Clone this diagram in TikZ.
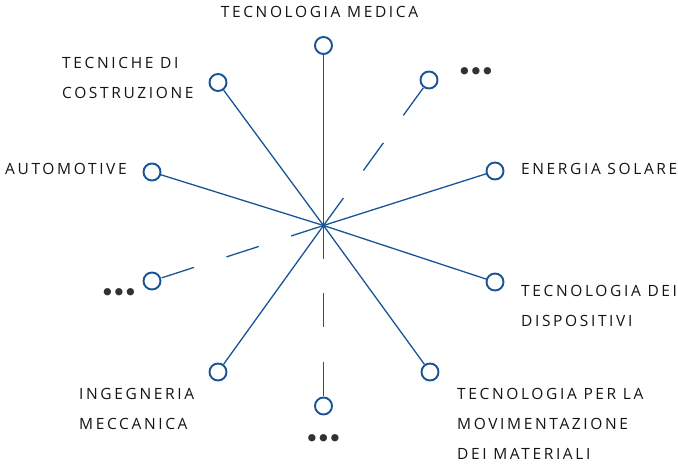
\documentclass[tikz,border=0pt]{standalone}
\usepackage{fontspec}
\setmainfont{Open Sans}[LetterSpace=17]
\newfontfamily\dotfont{DejaVu Sans}[LetterSpace=-13]
\definecolor{linkblue}{RGB}{24,84,150}
\definecolor{labelink}{RGB}{20,20,20}
\definecolor{dotink}{RGB}{50,50,50}
\begin{document}
\begin{tikzpicture}[x=1pt,y=-1pt,
  hubline/.style={draw=linkblue,line width=1.3pt},
  gapline/.style={hubline,dash pattern=on 34pt off 34pt},
  endcircle/.style={circle,draw=linkblue,line width=1.9pt,fill=white,minimum size=17pt,inner sep=0pt},
  label/.style={inner sep=0pt,anchor=north west,align=left,text=labelink,font=\fontsize{15.5}{30}\selectfont},
  more/.style={inner sep=0pt,text=dotink,font=\dotfont\fontsize{25}{25}\selectfont}]
\useasboundingbox (0,0) rectangle (678,465);
\coordinate (hub) at (323.5,225.5);
\node[endcircle] (cmed) at (323.5,45.5) {};
\node[endcircle] (ccos) at (218,82.5) {};
\node[endcircle] (caut) at (152,172) {};
\node[endcircle] (cur) at (429,80) {};
\node[endcircle] (csol) at (495,171) {};
\node[endcircle] (cdis) at (495,282) {};
\node[endcircle] (cmov) at (430,372) {};
\node[endcircle] (cbot) at (323.5,406) {};
\node[endcircle] (cing) at (218,372) {};
\node[endcircle] (cleft) at (152,281) {};
\draw[hubline] (hub) -- (cmed);
\draw[hubline] (hub) -- (ccos);
\draw[hubline] (hub) -- (caut);
\draw[gapline] (hub) -- (cur);
\draw[hubline] (hub) -- (csol);
\draw[hubline] (hub) -- (cdis);
\draw[hubline] (hub) -- (cmov);
\draw[gapline] (hub) -- (cbot);
\draw[hubline] (hub) -- (cing);
\draw[gapline] (hub) -- (cleft);
\node[label,anchor=north] (tmed) at (319.5,6) {TECNOLOGIA MEDICA};
\node[label] (tcos) at (62,57) {TECNICHE DI\\COSTRUZIONE};
\node[label] (taut) at (5,163) {AUTOMOTIVE};
\node[label,anchor=north east] (tsol) at (677.5,163) {ENERGIA SOLARE};
\node[label] (tdis) at (521,285) {TECNOLOGIA DEI\\DISPOSITIVI};
\node[label] (tmov) at (457,388) {TECNOLOGIA PER LA\\MOVIMENTAZIONE\\DEI MATERIALI};
\node[label] (ting) at (79,388) {INGEGNERIA\\MECCANICA};
\node[more] (dur) at (476,74) {•••};
\node[more] (dleft) at (119,295) {•••};
\node[more] (dbot) at (323.5,441) {•••};
\end{tikzpicture}
\end{document}
